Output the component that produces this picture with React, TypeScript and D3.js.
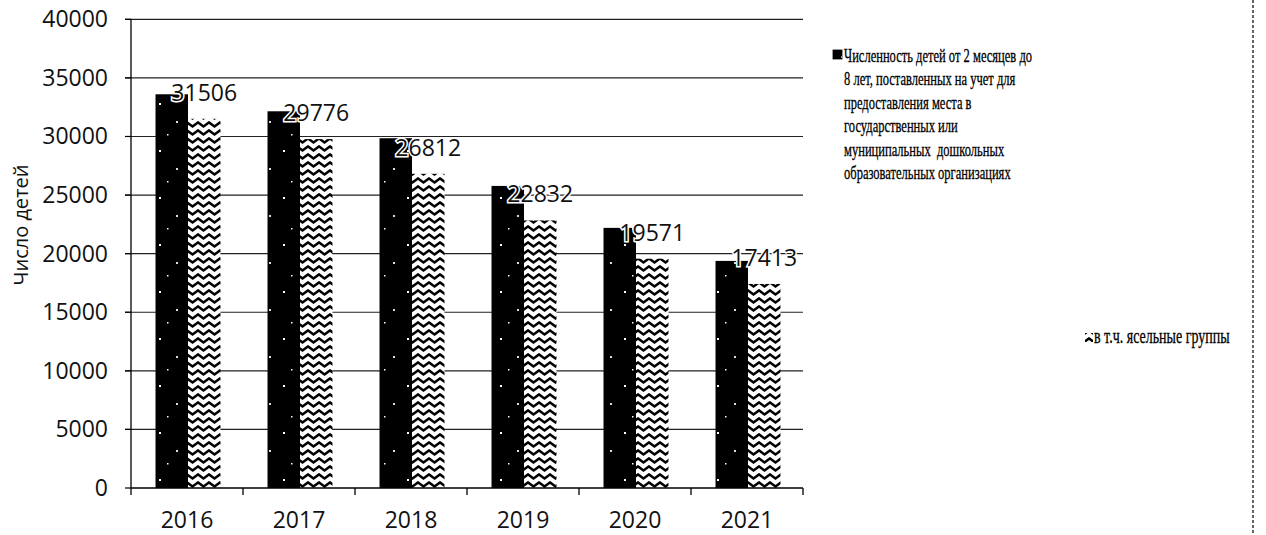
import React from "react";
import * as d3 from "d3";

const years = ["2016", "2017", "2018", "2019", "2020", "2021"];
const totalValues = [33600, 32150, 29850, 25780, 22200, 19380];
const nurseryValues = [31506, 29776, 26812, 22832, 19571, 17413];
const yTicks = [0, 5000, 10000, 15000, 20000, 25000, 30000, 35000, 40000];
const legendLines1 = [
  "Численность детей от 2 месяцев до",
  "8 лет, поставленных на учет для",
  "предоставления места в",
  "государственных или",
  "муниципальных  дошкольных",
  "образовательных организациях",
];
const legendLabel2 = "в т.ч. ясельные группы";
const yTitle = "Число детей";

const W = 1266;
const H = 535;
const left = 131;
const right = 803;
const top = 19.3;
const bottom = 488;

export default function App() {
  const x = d3.scaleBand<string>().domain(years).range([left, right]).padding(0);
  const y = d3.scaleLinear().domain([0, 40000]).range([bottom, top]);
  const bw = x.bandwidth();
  const groupW = bw * 0.58;
  const x1 = d3
    .scaleBand<string>()
    .domain(["total", "nursery"])
    .range([(bw - groupW) / 2 + 1, (bw - groupW) / 2 + 1 + groupW])
    .padding(0);
  const sub = x1.bandwidth();
  const numFont = "'Open Sans', 'DejaVu Sans', sans-serif";
  const serif = "'Liberation Serif', 'DejaVu Serif', serif";

  return (
    <svg
      width={W}
      height={H}
      style={{ position: "absolute", left: 0, top: 0, background: "#fff" }}
    >
      <defs>
        <pattern id="zig" width="11" height="8" patternUnits="userSpaceOnUse">
          <rect width="11" height="8" fill="#fff" />
          <path d="M-0.5,2 L5.5,6.5 L11.5,2" fill="none" stroke="#000" strokeWidth="2.4" />
        </pattern>
        <pattern id="speck" width="31" height="47" patternUnits="userSpaceOnUse">
          <rect width="31" height="47" fill="#000" />
          <rect x="4" y="9" width="2" height="2" fill="#fff" />
          <rect x="21" y="27" width="2" height="2" fill="#ddd" />
          <rect x="12" y="40" width="1.5" height="1.5" fill="#fff" />
        </pattern>
      </defs>

      {/* gridlines */}
      {yTicks.filter((t) => t > 0).map((t) => (
        <line key={t} x1={left - 6} x2={right} y1={y(t)} y2={y(t)} stroke="#222" strokeWidth={1.2} />
      ))}

      {/* y axis */}
      <line x1={left} x2={left} y1={top} y2={bottom} stroke="#000" strokeWidth={1.3} />
      {yTicks.map((t) => (
        <g key={"yt" + t}>
          <line x1={left - 6} x2={left} y1={y(t)} y2={y(t)} stroke="#000" strokeWidth={1.2} />
          <text
            x={108}
            y={y(t) + 8}
            textAnchor="end"
            fontFamily={numFont}
            fontSize={23}
            fill="#111"
          >
            {t}
          </text>
        </g>
      ))}

      {/* bars */}
      {years.map((yr, i) => {
        const x0 = x(yr) as number;
        return (
          <g key={yr}>
            <rect
              x={x0 + (x1("total") as number)}
              y={y(totalValues[i])}
              width={sub}
              height={bottom - y(totalValues[i])}
              fill="url(#speck)"
            />
            <rect
              x={x0 + (x1("nursery") as number)}
              y={y(nurseryValues[i])}
              width={sub}
              height={bottom - y(nurseryValues[i])}
              fill="url(#zig)"
            />
          </g>
        );
      })}

      {/* x axis */}
      <line x1={left} x2={right} y1={bottom} y2={bottom} stroke="#000" strokeWidth={1.4} />
      {d3.range(years.length + 1).map((k) => {
        const xx = k < years.length ? (x(years[k]) as number) : right;
        return <line key={"xt" + k} x1={xx} x2={xx} y1={bottom} y2={bottom + 7} stroke="#000" strokeWidth={1.3} />;
      })}
      {years.map((yr) => (
        <text
          key={"xl" + yr}
          x={(x(yr) as number) + bw / 2}
          y={528}
          textAnchor="middle"
          fontFamily={numFont}
          fontSize={23}
          fill="#111"
        >
          {yr}
        </text>
      ))}

      {/* data labels */}
      {years.map((yr, i) => (
        <text
          key={"dl" + yr}
          x={(x(yr) as number) + (x1("nursery") as number) + sub / 2}
          y={y(nurseryValues[i]) - 18}
          textAnchor="middle"
          fontFamily={numFont}
          fontSize={23}
          fill="#111"
          stroke="#fff"
          strokeWidth={3}
          paintOrder="stroke"
        >
          {nurseryValues[i]}
        </text>
      ))}

      {/* y title */}
      <text
        transform={`translate(28,225) rotate(-90)`}
        textAnchor="middle"
        fontFamily={numFont}
        fontSize={20}
        fill="#111"
      >
        {yTitle}
      </text>

      {/* legend */}
      <rect x={833} y={50} width={9} height={9} fill="url(#speck)" stroke="#000" strokeWidth={0.8} />
      <g transform="translate(844,0) scale(0.66,1)">
        {legendLines1.map((line, i) => (
          <text
            key={"lg" + i}
            x={0}
            y={62 + i * 23.4}
            fontFamily={serif}
            fontSize={19}
            fill="#000"
            stroke="#000"
            strokeWidth={0.3}
            style={{ whiteSpace: "pre" }}
          >
            {line}
          </text>
        ))}
      </g>
      <rect x={1085} y={333} width={8} height={9} fill="url(#zig)" />
      <g transform="translate(1094,0) scale(0.70,1)">
        <text x={0} y={343} fontFamily={serif} fontSize={20} fill="#000" stroke="#000" strokeWidth={0.3}>
          {legendLabel2}
        </text>
      </g>

      {/* right border */}
      <line x1={1253} x2={1253} y1={0} y2={H} stroke="#333" strokeWidth={1.5} strokeDasharray="3,2" />
    </svg>
  );
}
